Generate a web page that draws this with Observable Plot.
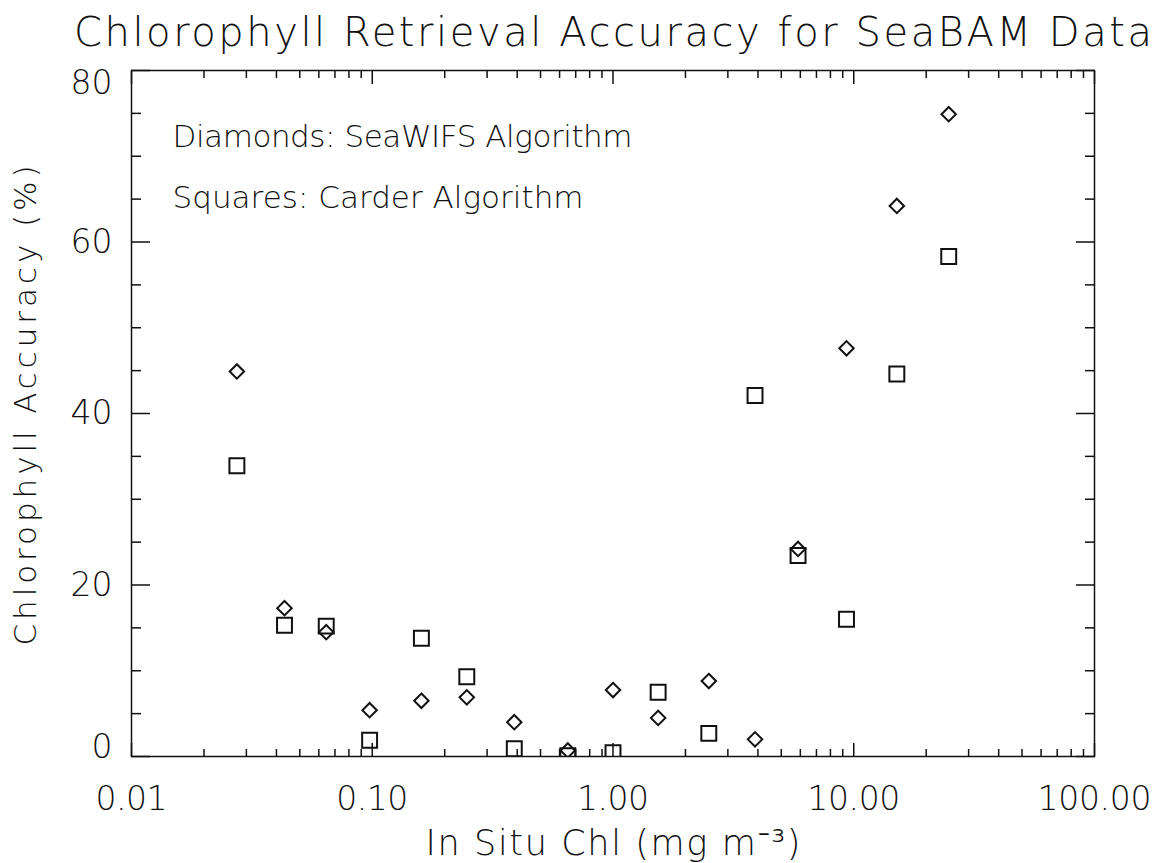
<!DOCTYPE html>
<html><head><meta charset="utf-8">
<script src="https://cdn.jsdelivr.net/npm/d3@7"></script>
<script src="https://cdn.jsdelivr.net/npm/@observablehq/plot@0.6"></script>
<style>html,body{margin:0;padding:0;background:#fff;}</style>
</head><body><div id="chart"></div>
<script>
// In situ chlorophyll (mg m^-3), shared by both series
const chl = [0.0274, 0.0432, 0.0644, 0.0975, 0.160, 0.247, 0.389, 0.649, 1.0, 1.54, 2.50, 3.89, 5.87, 9.33, 15.1, 24.8];
// Diamonds: SeaWiFS algorithm accuracy (%)
const seawifs = [44.9, 17.3, 14.5, 5.4, 6.5, 6.9, 4.0, 0.7, 7.75, 4.5, 8.8, 2.0, 24.2, 47.6, 64.2, 74.9];
// Squares: Carder algorithm accuracy (%)
const carder = [33.9, 15.3, 15.2, 1.9, 13.8, 9.3, 0.9, 0.1, 0.45, 7.5, 2.7, 42.1, 23.45, 16.0, 44.6, 58.3];

const xMajor = [0.01, 0.1, 1, 10, 100];
const xTickLabels = ["0.01", "0.10", "1.00", "10.00", "100.00"];
const xMinor = [0.02,0.03,0.04,0.05,0.06,0.07,0.08,0.09,
                0.2,0.3,0.4,0.5,0.6,0.7,0.8,0.9,
                2,3,4,5,6,7,8,9,
                20,30,40,50,60,70,80,90];
const yMajor = [0, 20, 40, 60, 80];
const yMid = [20, 40, 60];
const yMinor = [5,10,15,25,30,35,45,50,55,65,70,75];

const titleText = "Chlorophyll Retrieval Accuracy for SeaBAM Data";
const xLabel = "In Situ Chl (mg m⁻³)";
const yLabel = "Chlorophyll Accuracy (%)";
const note1 = "Diamonds: SeaWIFS Algorithm";
const note2 = "Squares: Carder Algorithm";

// rendered widths of the (wide, stroked) original lettering
const textWidths = {
  [titleText]: 1078, [note1]: 460, [note2]: 411, [xLabel]: 375, [yLabel]: 480,
  "0.01": 72, "0.10": 72, "1.00": 72, "10.00": 93, "100.00": 114,
  "0": 21, "20": 42, "40": 42, "60": 42, "80": 42
};

const rows = chl.map((x, i) => ({x, seawifs: seawifs[i], carder: carder[i]}));
const ink = "#111";
const fmtX = d => xTickLabels[xMajor.indexOf(d)];

const chart = Plot.plot({
  width: 1160, height: 863,
  marginLeft: 131, marginRight: 66, marginTop: 70, marginBottom: 107,
  style: {fontFamily: "'DejaVu Sans', sans-serif", fontWeight: 200, background: "#fff", color: ink},
  x: {type: "log", domain: [0.01, 100]},
  y: {domain: [0, 80]},
  marks: [
    Plot.frame({stroke: ink, strokeWidth: 1.5}),
    // x ticks bottom / top (inward)
    Plot.axisX(xMajor, {anchor: "bottom", tickSize: -13, tickPadding: 43, strokeWidth: 1.5,
      tickFormat: fmtX, fontSize: 33, fill: ink, label: null}),
    Plot.axisX(xMinor, {anchor: "bottom", tickSize: -7, strokeWidth: 1.5, fill: "none", label: null}),
    Plot.axisX(xMajor, {anchor: "top", tickSize: -13, strokeWidth: 1.5, fill: "none", label: null}),
    Plot.axisX(xMinor, {anchor: "top", tickSize: -7, strokeWidth: 1.5, fill: "none", label: null}),
    // y ticks left / right (inward)
    Plot.axisY(yMajor, {anchor: "left", tickSize: -19, strokeWidth: 1.5, fill: "none", label: null}),
    Plot.axisY(yMid, {anchor: "left", tickSize: 0, tickPadding: 19, fontSize: 33, fill: ink, label: null}),
    Plot.axisY([80], {anchor: "left", tickSize: 0, tickPadding: 19, dy: 13, fontSize: 33, fill: ink, label: null}),
    Plot.axisY([0], {anchor: "left", tickSize: 0, tickPadding: 19, dy: -9, fontSize: 33, fill: ink, label: null}),
    Plot.axisY(yMinor, {anchor: "left", tickSize: -10, strokeWidth: 1.5, fill: "none", label: null}),
    Plot.axisY(yMajor, {anchor: "right", tickSize: -19, strokeWidth: 1.5, fill: "none", label: null}),
    Plot.axisY(yMinor, {anchor: "right", tickSize: -10, strokeWidth: 1.5, fill: "none", label: null}),
    // data
    Plot.dot(rows, {x: "x", y: "seawifs", symbol: "diamond2", r: 6.5, stroke: ink, strokeWidth: 2, clip: true}),
    Plot.dot(rows, {x: "x", y: "carder", symbol: "square2", r: 9.5, stroke: ink, strokeWidth: 2, clip: true}),
    // texts
    Plot.text([titleText], {frameAnchor: "top", dy: -25, lineAnchor: "bottom", fontSize: 40, fill: ink}),
    Plot.text([note1], {frameAnchor: "top-left", dx: 41, dy: 76, textAnchor: "start", lineAnchor: "bottom", fontSize: 31, fill: ink}),
    Plot.text([note2], {frameAnchor: "top-left", dx: 41, dy: 137, textAnchor: "start", lineAnchor: "bottom", fontSize: 31, fill: ink}),
    Plot.text([yLabel], {frameAnchor: "left", dx: -96, dy: -8, rotate: -90, textAnchor: "middle", lineAnchor: "bottom", fontSize: 31, fill: ink}),
    Plot.text([xLabel], {frameAnchor: "bottom", dy: 98, lineAnchor: "bottom", fontSize: 35, fill: ink})
  ]
});
d3.select(chart).selectAll("text").each(function () {
  const w = textWidths[this.textContent];
  if (w) { this.setAttribute("textLength", w); this.setAttribute("lengthAdjust", "spacing"); }
});
document.getElementById("chart").appendChild(chart);
</script>
</body></html>
